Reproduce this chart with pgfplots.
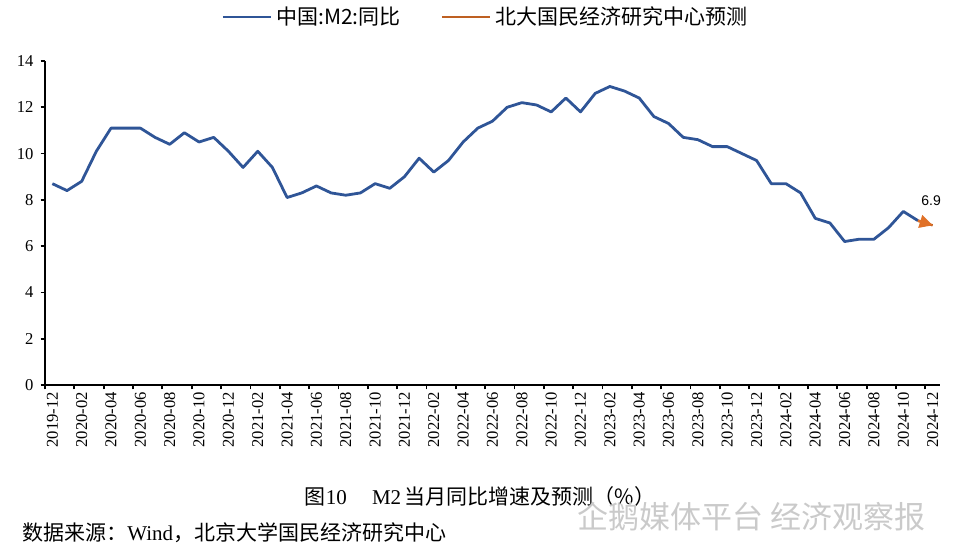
\documentclass[border=0pt]{standalone}
\usepackage{fontspec}
\setmainfont{Liberation Serif}
\newfontfamily\cjk{Noto Sans CJK SC}
\newfontfamily\arial{Liberation Sans}
\usepackage{xcolor}
\definecolor{M2Blue}{HTML}{2F5597}
\definecolor{FcOrange}{HTML}{E07128}
\definecolor{WmGray}{HTML}{CACACA}
\usepackage{pgfplots}
\pgfplotsset{compat=1.18}
\usetikzlibrary{arrows.meta}

\begin{document}
\begin{tikzpicture}
% 1 px of the 960x550 reference = 0.5pt
\path[use as bounding box] (0,0) rectangle (480pt,-275pt);
\begin{axis}[
  at={(22.5pt,-192.5pt)}, anchor=south west,
  scale only axis,
  width=447.5pt, height=162pt,
  xmin=-0.5, xmax=60.5,
  ymin=0, ymax=14,
  ytick={0,2,...,14},
  axis x line=bottom, axis y line=left,
  axis line style={-, line width=0.9pt, black},
  tick style={line width=0.9pt, black},
  tick align=outside,
  major tick length=2.2pt,
  /pgf/number format/assume math mode=true,
  ticklabel style={font=\fontsize{8.3}{9}\selectfont},
  xtick={-0.5,1.5,...,59.5},
  xticklabels={},
  extra x ticks={0,2,...,60},
  extra x tick labels={2019-12,2020-02,2020-04,2020-06,2020-08,2020-10,2020-12,
    2021-02,2021-04,2021-06,2021-08,2021-10,2021-12,
    2022-02,2022-04,2022-06,2022-08,2022-10,2022-12,
    2023-02,2023-04,2023-06,2023-08,2023-10,2023-12,
    2024-02,2024-04,2024-06,2024-08,2024-10,2024-12},
  extra x tick style={major tick length=0pt,
    xticklabel style={rotate=90, anchor=east}},
  clip=false,
  legend style={at={(rel axis cs:0.493,1)}, anchor=center, yshift=22pt,
    draw=none, fill=none, font=\cjk\fontsize{10.5}{12}\selectfont,
    /tikz/every even column/.append style={column sep=18pt}},
  legend columns=2,
  legend image code/.code={\draw[#1] (0pt,0pt) -- (24pt,0pt);},
]
\addplot[M2Blue, line width=1.4pt, line join=round] coordinates {
  (0,8.7) (1,8.4) (2,8.8) (3,10.1) (4,11.1) (5,11.1) (6,11.1) (7,10.7)
  (8,10.4) (9,10.9) (10,10.5) (11,10.7) (12,10.1) (13,9.4) (14,10.1)
  (15,9.4) (16,8.1) (17,8.3) (18,8.6) (19,8.3) (20,8.2) (21,8.3) (22,8.7)
  (23,8.5) (24,9.0) (25,9.8) (26,9.2) (27,9.7) (28,10.5) (29,11.1)
  (30,11.4) (31,12.0) (32,12.2) (33,12.1) (34,11.8) (35,12.4) (36,11.8)
  (37,12.6) (38,12.9) (39,12.7) (40,12.4) (41,11.6) (42,11.3) (43,10.7)
  (44,10.6) (45,10.3) (46,10.3) (47,10.0) (48,9.7) (49,8.7) (50,8.7)
  (51,8.3) (52,7.2) (53,7.0) (54,6.2) (55,6.3) (56,6.3) (57,6.8)
  (58,7.5) (59,7.1)
};
\addlegendentry{中国:M2:同比}
% forecast segment: plain line carries the legend, arrow drawn on top
\addplot[FcOrange!85!black, line width=1.2pt]
  coordinates {(59,7.1) (60,6.9)};
\addlegendentry{北大国民经济研究中心预测}
\addplot[FcOrange, line width=1.2pt, -{Triangle[length=6.5pt,width=6.5pt]},
  forget plot] coordinates {(59,7.1) (60,6.9)};
\node[font=\arial\fontsize{7}{8}\selectfont] at (axis cs:59.9,7.95) {6.9};
\end{axis}
\node[font=\fontsize{10.5}{12}\selectfont] at (240pt,-248.5pt)
  {{\cjk 图}10\hspace{1.2em}M2\,{\cjk 当月同比增速及预测（\%）}};
\node[anchor=west, inner sep=0pt, font=\fontsize{10.5}{12}\selectfont] at (11pt,-266.5pt)
  {{\cjk 数据来源：}Wind{\cjk ，北京大学国民经济研究中心}};
\node[anchor=west, inner sep=0pt, text=WmGray, font=\cjk\fontsize{15.5}{17}\selectfont]
  at (288.5pt,-258.5pt) {企鹅媒体平台 经济观察报};
\end{tikzpicture}
\end{document}
